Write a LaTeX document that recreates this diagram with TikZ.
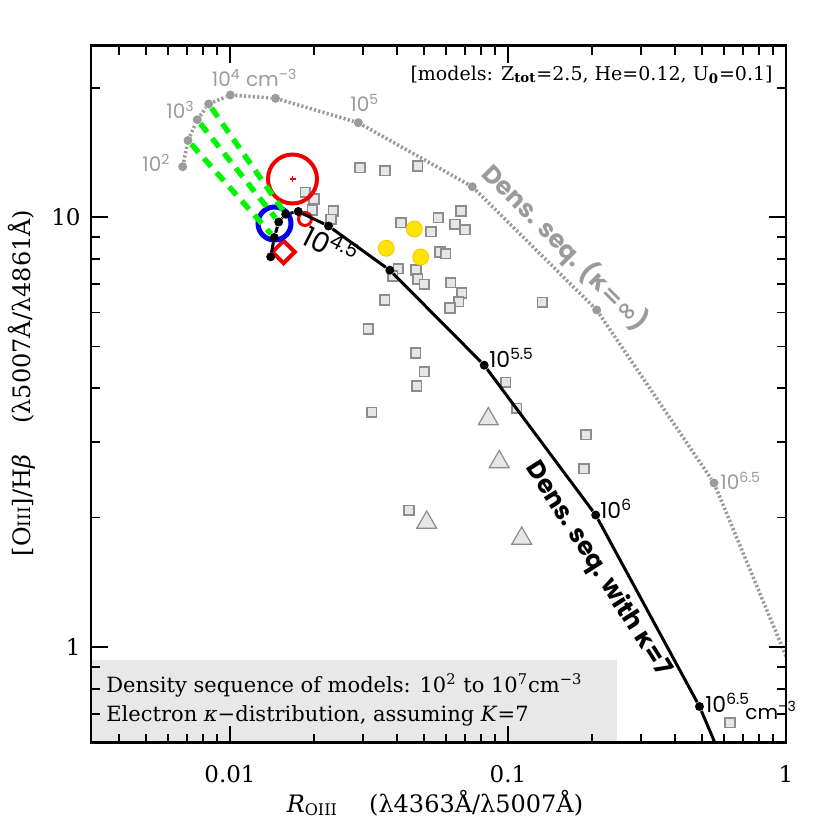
\documentclass[tikz,border=0pt]{standalone}
\usepackage{fontspec}
\setmainfont{DejaVu Serif}
\newfontfamily\pop{Poppins}
\newfontfamily\djs{DejaVu Sans}
\usetikzlibrary{shapes.geometric}
\definecolor{curvegray}{RGB}{155,155,155}
\definecolor{sqfill}{RGB}{230,230,230}
\definecolor{sqedge}{RGB}{140,140,140}
\definecolor{boxfill}{RGB}{232,232,232}
\definecolor{gold}{RGB}{255,228,0}
\definecolor{goldedge}{RGB}{245,200,0}
\definecolor{lime}{RGB}{0,245,0}
\definecolor{pred}{RGB}{240,0,0}
\definecolor{pblue}{RGB}{0,0,230}
\begin{document}
\begin{tikzpicture}[x=0.5pt,y=-0.5pt,
  sq/.style={rectangle, draw=sqedge, fill=sqfill, line width=0.8pt, minimum size=4.8pt, inner sep=0pt},
  tri/.style={regular polygon, regular polygon sides=3, draw=sqedge, fill=sqfill, line width=0.6pt, minimum size=11.5pt, inner sep=0pt},
  yel/.style={circle, draw=goldedge, fill=gold, line width=0.4pt, minimum size=8pt, inner sep=0pt},
  gdot/.style={circle, fill=curvegray, minimum size=4.5pt, inner sep=0pt},
  bdot/.style={circle, fill=black, minimum size=4.5pt, inner sep=0pt},
  gcurve/.style={draw=curvegray, line width=1.8pt, dash pattern=on 1.1pt off 1.1pt},
  bcurve/.style={draw=black, line width=1.5pt},
  gdash/.style={draw=lime, line width=2.7pt, dash pattern=on 5.5pt off 4pt},
  glab/.style={text=curvegray, font=\pop\fontsize{10}{10}\selectfont, inner sep=0pt},
  blab/.style={text=black, font=\pop\fontsize{11}{11}\selectfont, inner sep=0pt},
  bigsans/.style={font=\pop\fontsize{12.5}{13}\bfseries\selectfont, inner sep=0pt},
  tickl/.style={font=\fontsize{11.5}{12}\selectfont, inner sep=0pt},
  tk/.style={line width=0.9pt},
  frm/.style={line width=1.2pt}]
\path[use as bounding box] (0,0) rectangle (830,830);

% legend box
\fill[boxfill] (91,660) rectangle (617,742.5);

\begin{scope}
\clip (91,45.5) rectangle (786,742.5);
% observed squares
\foreach \p [count=\i] in {(360,167.5),(385,170.5),(417.7,166),(305.3,192.3),(314,199),(312.3,210),
  (333.3,211),(331,219.3),(401,222.5),(438.3,217.7),(461,211),(431,231.5),(455,224.3),(465,229.7),
  (440,252),(445.5,253.8),(398.3,268.5),(392.7,276),(416,270),(417.5,279),(424.3,284.3),(450.8,282.7),
  (461.7,293),(458.8,301.7),(450,308),(384.5,300),(368.3,329),(415.8,353),(424.3,371.7),(416.7,386),
  (371.7,412.3),(542.3,302.3),(505.7,382.3),(516.7,408.3),(586,434.5),(584,468.5),(409,510.3),(730,722.7)}
  \node[sq] (s\i) at \p {};
% triangles
\node[tri] (t1) at (488.3,419) {};
\node[tri] (t2) at (499.2,462) {};
\node[tri] (t3) at (426.7,522.5) {};
\node[tri] (t4) at (521.7,538.5) {};
% yellow
\node[yel] (y1) at (414.3,229) {};
\node[yel] (y2) at (386.3,248.3) {};
\node[yel] (y3) at (420.7,257) {};

% kappa = infinity sequence
\node[gdot] (g20) at (182.7,166.7) {};
\node[gdot] (g25) at (188,140.5) {};
\node[gdot] (g30) at (197.3,119.7) {};
\node[gdot] (g35) at (208.7,104) {};
\node[gdot] (g40) at (230.3,95) {};
\node[gdot] (g45) at (275.5,98.3) {};
\node[gdot] (g50) at (358.3,122.7) {};
\node[gdot] (g55) at (472.3,186.7) {};
\node[gdot] (g60) at (596.7,310) {};
\node[gdot] (g65) at (714,483) {};
\coordinate (g70) at (800,690);
\draw[gcurve] (g20) -- (g25) -- (g30) -- (g35) -- (g40) -- (g45) -- (g50) -- (g55) -- (g60) -- (g65) -- (g70);

% red / blue symbols
\node[circle, draw=pred, line width=2pt, minimum size=24.5pt, inner sep=0pt] (rbig) at (292.5,179) {};
\draw[pred, line width=0.6pt] (rbig.center) ++(-3,0) -- ++(6,0) (rbig.center) ++(0,-3) -- ++(0,6);
\node[diamond, draw=pred, line width=2pt, minimum size=12pt, inner sep=0pt] (rdia) at (283.5,252) {};
\node[circle, draw=pred, line width=1.5pt, minimum size=6.5pt, inner sep=0pt] (rsm) at (305,219) {};
\node[circle, draw=pblue, line width=2.5pt, minimum size=16.5pt, inner sep=0pt] (bc) at (274.5,223.5) {};

% kappa = 7 sequence
\node[bdot] (b20) at (270.7,256.8) {};
\node[bdot] (b25) at (274.3,237.5) {};
\node[bdot] (b30) at (278.7,222) {};
\node[bdot] (b35) at (285.7,214.2) {};
\node[bdot] (b40) at (298.3,211.5) {};
\node[bdot] (b45) at (328.5,226) {};
\node[bdot] (b50) at (389.8,270.2) {};
\node[bdot] (b55) at (484.2,365.2) {};
\node[bdot] (b60) at (595.7,515) {};
\node[bdot] (b65) at (699.5,706.5) {};
\coordinate (b70) at (735,790);

% green connectors
\draw[gdash] (g25) -- (b25);
\draw[gdash] (g30) -- (b30);
\draw[gdash] (g35) -- (b35);

\draw[bcurve] (b20) -- (b25) -- (b30) -- (b35) -- (b40) -- (b45) -- (b50) -- (b55) -- (b60) -- (b65) -- (b70);
\end{scope}

% density labels, kappa = infinity
\node[glab, anchor=base west] (l2) at (142,171.5) {10\textsuperscript{2}};
\node[glab, anchor=base west] (l3) at (166,118.5) {10\textsuperscript{3}};
\node[glab, anchor=base west] (l4) at (211.5,86.5) {10\textsuperscript{4} cm\textsuperscript{–3}};
\node[glab, anchor=base west] (l5) at (350,111.5) {10\textsuperscript{5}};
\node[glab, anchor=base west] (l65g) at (720,489.5) {10\textsuperscript{6.5}};
\node[bigsans, text=curvegray, rotate=-45] (dinf) at (565,248)
  {Dens. seq. ({\djs\bfseries κ=∞})};

% density labels, kappa = 7
\node[blab, font=\pop\fontsize{14}{14}\selectfont, rotate=-27] (l45) at (331,245) {10\textsuperscript{4.5}};
\node[blab, anchor=base west] (l55) at (489,367) {10\textsuperscript{5.5}};
\node[blab, anchor=base west] (l60) at (600,518) {10\textsuperscript{6}};
\node[blab, anchor=base west] (l65) at (705,712.5) {10\textsuperscript{6.5}};
\node[blab, anchor=base west, font=\pop\fontsize{10}{10}\selectfont] (lcm) at (745,719) {cm\textsuperscript{–3}};
\node[bigsans, rotate=-57.5] (d7) at (598,569) {Dens. seq. with {\djs\bfseries κ}=7};

% texts
\node[anchor=base east, font=\fontsize{9.5}{10}\selectfont, inner sep=0pt] (models) at (773,80)
  {[models: Z\textsubscript{\textbf{tot}}=2.5, He=0.12, U\textsubscript{\textbf{0}}=0.1]};
\node[anchor=base west, font=\fontsize{10.5}{12}\selectfont, inner sep=0pt] (leg1) at (106,692)
  {Density sequence of models: 10\textsuperscript{2} to 10\textsuperscript{7}cm\textsuperscript{−3}};
\node[anchor=base west, font=\fontsize{10.5}{12}\selectfont, inner sep=0pt] (leg2) at (106,721)
  {Electron \textit{κ}−distribution, assuming \textit{K}=7};

% frame and ticks
\draw[frm] (91,45.5) rectangle (786,742.5);
\foreach \m in {4,...,9} {
  \pgfmathsetmacro\xx{786+278*(log10(\m)-3)}
  \draw[tk] (\xx,742.5) -- ++(0,-9) (\xx,45.5) -- ++(0,9);}
\foreach \m in {2,...,9} {
  \pgfmathsetmacro\xx{786+278*(log10(\m)-2)}
  \pgfmathsetmacro\xy{786+278*(log10(\m)-1)}
  \draw[tk] (\xx,742.5) -- ++(0,-9) (\xx,45.5) -- ++(0,9)
            (\xy,742.5) -- ++(0,-9) (\xy,45.5) -- ++(0,9);}
\foreach \xx in {230,508} {
  \draw[tk] (\xx,742.5) -- ++(0,-17) (\xx,45.5) -- ++(0,17);}
\foreach \m in {6,...,9} {
  \pgfmathsetmacro\yy{647-430*(log10(\m)-1)}
  \draw[tk] (91,\yy) -- ++(9,0) (786,\yy) -- ++(-9,0);}
\foreach \m in {2,...,9} {
  \pgfmathsetmacro\yy{647-430*log10(\m)}
  \draw[tk] (91,\yy) -- ++(9,0) (786,\yy) -- ++(-9,0);}
\draw[tk] (91,87.6) -- ++(9,0) (786,87.6) -- ++(-9,0);
\foreach \yy in {647,217} {
  \draw[tk] (91,\yy) -- ++(17,0) (786,\yy) -- ++(-17,0);}

% tick labels
\node[tickl] (xt1) at (230,774) {0.01};
\node[tickl] (xt2) at (508,774) {0.1};
\node[tickl] (xt3) at (786,774) {1};
\node[tickl, anchor=east] (yt1) at (81,217) {10};
\node[tickl, anchor=east] (yt2) at (81,647) {1};

% axis titles
\node[font=\fontsize{12}{14}\selectfont] (xlab) at (435,803)
  {\textit{R}\textsubscript{OIII}\hspace{1.3em}(λ4363Å/λ5007Å)};
\node[rotate=90, font=\fontsize{12}{14}\selectfont] (ylab) at (22,383)
  {[O{\fontsize{8.5}{9}\selectfont III}]/H\textit{β}\hspace{1.3em}(λ5007Å/λ4861Å)};
\end{tikzpicture}
\end{document}
